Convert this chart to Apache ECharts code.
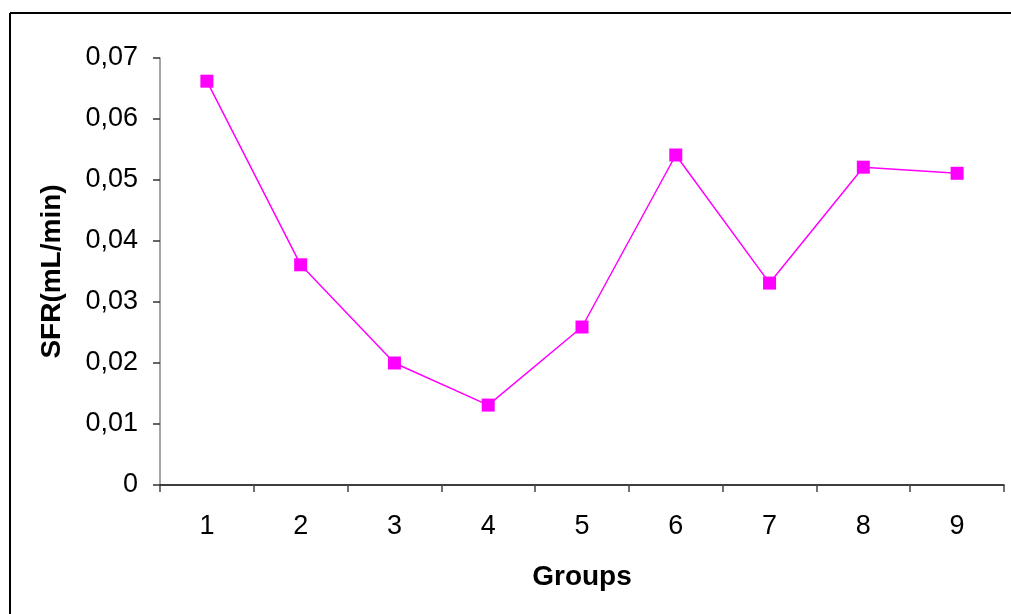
<!DOCTYPE html>
<html>
<head>
<meta charset="utf-8">
<script src="https://cdn.jsdelivr.net/npm/echarts@6/dist/echarts.min.js"></script>
<style>
html,body{margin:0;padding:0;background:#fff;overflow:hidden;}
#chart{width:1011px;height:614px;}
</style>
</head>
<body>
<div id="chart"></div>
<script>
const categories = ['1','2','3','4','5','6','7','8','9'];
const sfrValues = [0.0662, 0.0361, 0.0200, 0.0131, 0.0259, 0.0541, 0.0331, 0.0521, 0.0511];
const yTickLabels = ['0','0,01','0,02','0,03','0,04','0,05','0,06','0,07'];

const chart = echarts.init(document.getElementById('chart'));
chart.setOption({
  animation: false,
  backgroundColor: '#fff',
  graphic: [
    {type: 'line', shape: {x1: 10, y1: 13, x2: 1011, y2: 13}, style: {stroke: '#000', lineWidth: 2}},
    {type: 'line', shape: {x1: 10, y1: 13, x2: 10, y2: 614}, style: {stroke: '#000', lineWidth: 2}}
  ],
  grid: {left: 160, top: 58, right: 7, bottom: 129},
  xAxis: {
    type: 'category',
    data: categories,
    boundaryGap: true,
    name: 'Groups',
    nameLocation: 'middle',
    nameGap: 78,
    nameTextStyle: {fontFamily: 'Liberation Sans', fontSize: 28, fontWeight: 'bold', color: '#000'},
    axisLine: {lineStyle: {color: '#000', width: 1.5}},
    axisTick: {show: true, length: 7, inside: false, lineStyle: {color: '#444', width: 1.5}},
    axisLabel: {margin: 28, fontFamily: 'Liberation Sans', fontSize: 27, color: '#000'},
    splitLine: {show: false}
  },
  yAxis: {
    type: 'value',
    min: 0, max: 0.07, interval: 0.01,
    name: 'SFR(mL/min)',
    nameLocation: 'middle',
    nameGap: 94,
    nameTextStyle: {fontFamily: 'Liberation Sans', fontSize: 28, fontWeight: 'bold', color: '#000'},
    axisLine: {show: true, lineStyle: {color: '#888', width: 1.5}},
    axisTick: {show: true, length: 7, lineStyle: {color: '#333', width: 1.5}},
    axisLabel: {
      margin: 22, fontFamily: 'Liberation Sans', fontSize: 27, color: '#000',
      formatter: function (v) { return yTickLabels[Math.round(v * 100)]; }
    },
    splitLine: {show: false}
  },
  series: [{
    type: 'line',
    data: sfrValues,
    symbol: 'rect',
    symbolSize: 13,
    lineStyle: {color: '#FF00FF', width: 1.5},
    itemStyle: {color: '#FF00FF'}
  }]
});
</script>
</body>
</html>
